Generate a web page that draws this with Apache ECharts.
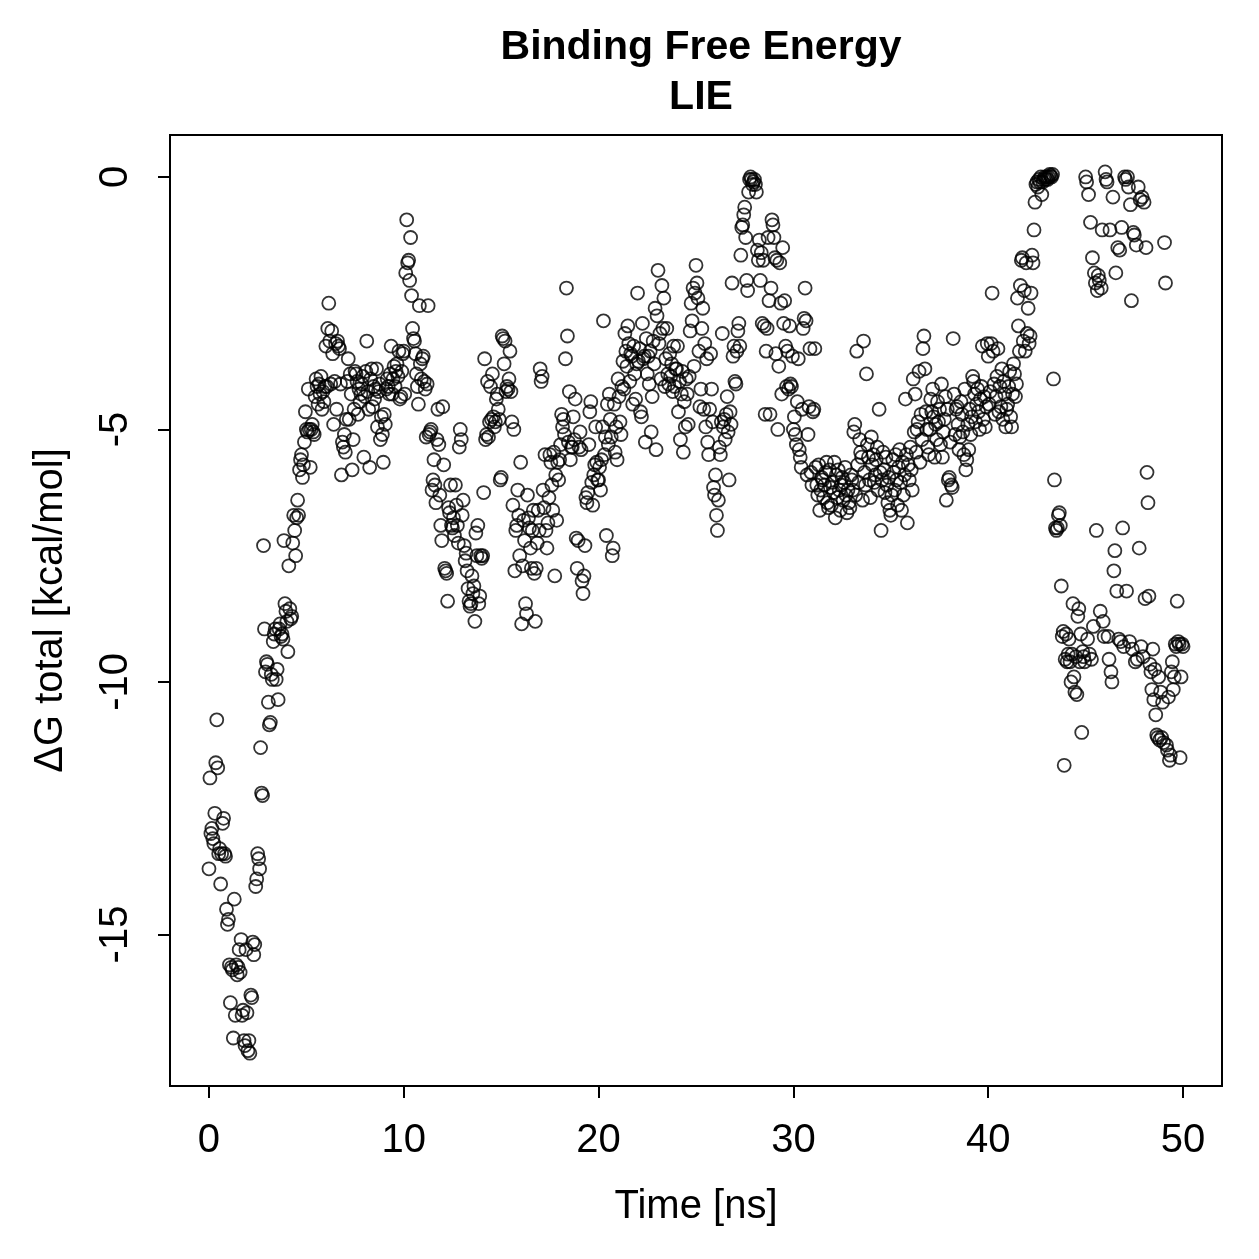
<!DOCTYPE html>
<html>
<head>
<meta charset="utf-8">
<script src="https://cdn.jsdelivr.net/npm/echarts@6/dist/echarts.min.js"></script>
<style>
  html, body { margin: 0; background: #fff; }
  #main { width: 1259px; height: 1259px; }
</style>
</head>
<body>
<div id="main"></div>
<script>
// frames are written every 0.05 ns; one row per nanosecond (20 frames)
const sampleStep = 0.05
const dgByNs = [
  [-13.7,-11.9,-13.0,-12.9,-13.1,-13.2,-12.6,-11.6,-10.75,-11.7,-13.4,-13.3,-14.0,-13.4,-12.8,-12.7,-13.4,-13.45,-14.5,-14.8],
  [-14.7,-15.6,-16.35,-15.65,-15.7,-17.05,-14.3,-16.6,-15.6,-15.8,-15.65,-15.3,-15.75,-15.1,-16.6,-16.5,-17.1,-17.2,-15.3,-16.55],
  [-17.3,-17.1,-17.35,-16.2,-16.25,-15.15,-15.4,-15.2,-14.05,-13.9,-13.4,-13.5,-13.7,-11.3,-12.2,-12.25,-7.3,-8.95,-9.8,-9.6],
  [-9.65,-10.4,-10.85,-10.8,-9.85,-9.95,-9.2,-9.05,-8.95,-9.95,-9.75,-10.35,-8.95,-8.85,-9.1,-9.05,-9.15,-7.2,-8.45,-8.6],
  [-8.8,-9.4,-7.7,-8.55,-8.75,-8.7,-7.25,-6.7,-7.0,-7.5,-6.75,-6.4,-6.7,-5.8,-5.6,-5.5,-5.95,-5.7,-5.25,-4.65],
  [-5.0,-5.05,-4.2,-5.0,-5.75,-5.0,-4.9,-5.05,-5.1,-4.35,-4.0,-4.15,-4.5,-4.1,-4.3,-3.95,-4.6,-4.25,-4.45,-4.15],
  [-3.35,-4.15,-3.0,-2.5,-3.25,-4.1,-3.05,-3.5,-4.9,-4.05,-3.3,-4.6,-3.25,-3.35,-3.4,-4.1,-5.9,-5.25,-5.35,-5.1],
  [-5.45,-4.8,-4.05,-3.6,-4.8,-3.9,-4.3,-5.8,-5.2,-4.6,-3.85,-3.9,-4.05,-4.7,-4.2,-4.45,-4.3,-4.1,-3.95,-5.55],
  [-4.35,-3.85,-3.25,-4.25,-4.6,-5.75,-4.0,-3.8,-4.55,-4.15,-4.4,-4.2,-3.8,-4.95,-4.25,-4.1,-5.2,-4.75,-5.1,-5.65],
  [-4.7,-4.9,-4.2,-4.0,-4.15,-4.3,-3.9,-3.35,-4.3,-4.0,-3.75,-4.15,-3.85,-3.7,-3.95,-3.45,-4.4,-4.35,-3.85,-3.5],
  [-3.45,-4.3,-1.9,-0.85,-1.7,-1.65,-2.05,-1.2,-2.35,-3.0,-3.2,-3.25,-3.5,-3.9,-4.15,-4.5,-2.55,-3.7,-4.0,-3.6],
  [-3.55,-4.05,-4.2,-5.15,-4.1,-2.55,-5.1,-5.05,-5.0,-6.2,-6.0,-5.6,-6.1,-6.45,-5.2,-4.6,-5.3,-6.3,-6.9,-7.2],
  [-4.55,-5.7,-7.75,-7.8,-7.85,-8.4,-6.55,-6.65,-6.1,-6.9,-6.95,-6.75,-7.1,-6.1,-6.5,-6.9,-7.25,-5.35,-5.0,-5.2],
  [-6.7,-6.4,-7.3,-7.6,-7.45,-7.8,-8.15,-8.4,-8.5,-8.45,-7.9,-8.25,-8.1,-8.8,-7.05,-7.5,-6.9,-8.45,-8.3,-7.5],
  [-7.55,-7.5,-6.25,-3.6,-5.2,-5.1,-4.05,-5.15,-4.85,-4.15,-4.8,-3.9,-4.75,-4.95,-4.85,-4.4,-4.3,-4.6,-4.8,-6.0],
  [-5.95,-3.15,-3.2,-3.7,-3.25,-4.25,-4.15,-4.2,-4.0,-3.45,-4.25,-4.85,-6.5,-5.0,-7.8,-7.0,-6.9,-6.2,-6.7,-7.5],
  [-5.65,-8.85,-7.7,-6.8,-7.2,-8.45,-8.65,-6.3,-6.75,-6.95,-7.35,-7.75,-7.0,-6.6,-7.85,-8.8,-7.75,-7.25,-6.6,-7.0],
  [-3.8,-4.05,-3.95,-6.2,-6.55,-5.5,-7.0,-7.35,-6.85,-6.35,-5.5,-5.65,-6.1,-6.6,-5.45,-7.9,-5.9,-6.8,-5.65,-6.0],
  [-5.6,-5.3,-4.7,-4.95,-4.8,-5.1,-3.6,-2.2,-3.15,-5.25,-4.25,-5.6,-5.35,-5.35,-4.75,-5.2,-4.4,-7.15,-7.75,-7.2],
  [-5.35,-5.05,-5.4,-8.0,-8.25,-7.9,-7.3,-6.35,-6.45,-6.25,-5.3,-4.65,-4.45,-6.05,-6.5,-5.9,-5.7,-4.95,-5.65,-6.0],
  [-6.0,-5.75,-6.2,-5.6,-4.95,-2.85,-5.5,-5.15,-7.1,-4.5,-5.3,-4.3,-4.8,-5.15,-7.5,-7.35,-4.5,-5.45,-4.95,-5.6],
  [-4.0,-4.35,-4.85,-5.1,-4.15,-3.65,-4.2,-3.1,-3.45,-3.75,-2.95,-3.3,-4.05,-3.5,-3.55,-4.5,-3.35,-3.9,-4.4,-3.7],
  [-2.3,-3.65,-3.4,-4.65,-4.75,-2.9,-3.6,-3.55,-5.25,-3.2,-3.9,-3.55,-4.1,-3.45,-5.05,-4.35,-3.25,-3.7,-2.6,-5.4],
  [-2.75,-1.85,-3.3,-3.1,-4.0,-2.15,-3.0,-2.4,-4.15,-3.6,-3.0,-3.9,-4.1,-3.5,-3.95,-3.7,-4.25,-3.35,-4.15,-3.8],
  [-3.8,-3.35,-4.65,-4.05,-5.2,-4.3,-3.85,-5.45,-4.45,-4.95,-4.0,-4.3,-4.9,-3.95,-3.05,-2.5,-2.85,-2.2,-3.75,-2.3],
  [-1.75,-2.1,-2.4,-3.45,-4.55,-4.2,-3.0,-2.6,-4.6,-3.3,-4.95,-3.6,-5.25,-5.5,-4.6,-3.5,-4.2,-4.85,-6.15,-6.3],
  [-5.9,-6.7,-7.0,-6.4,-5.35,-5.5,-4.85,-3.1,-4.95,-4.8,-5.2,-4.7,-4.35,-5.05,-6.0,-4.65,-4.9,-2.1,-3.55,-3.35],
  [-4.05,-4.1,-3.45,-3.05,-2.9,-3.35,-1.55,-1.0,-0.95,-0.75,-0.6,-1.2,-2.05,-2.25,-0.3,-0.05,0.0,-0.05,-0.15,-0.1],
  [-0.05,-0.15,-0.3,-1.45,-1.65,-1.25,-2.05,-1.5,-2.9,-1.65,-2.95,-4.7,-3.45,-3.0,-1.2,-2.45,-4.7,-2.2,-0.85,-0.95],
  [-1.2,-1.6,-3.5,-1.65,-5.0,-3.75,-1.7,-2.5,-4.3,-1.4,-2.9,-2.45,-3.35,-4.15,-3.45,-4.2,-2.95,-4.1,-4.15,-3.55],
  [-5.0,-4.75,-5.1,-5.3,-4.45,-3.6,-5.4,-5.55,-5.75,-4.6,-3.0,-2.8,-2.2,-2.85,-5.9,-5.1,-4.55,-3.4,-5.85,-6.1],
  [-4.65,-4.6,-3.4,-5.75,-6.1,-6.3,-5.7,-6.6,-6.2,-5.95,-6.0,-6.35,-6.1,-5.85,-5.65,-6.45,-6.55,-5.8,-6.15,-6.5],
  [-6.05,-6.25,-5.65,-6.75,-5.9,-6.35,-5.8,-6.2,-6.6,-6.1,-5.95,-6.4,-6.05,-5.75,-6.3,-6.65,-6.2,-6.45,-6.55,-5.9],
  [-6.0,-6.2,-5.05,-4.9,-6.3,-3.45,-5.7,-6.05,-5.2,-5.45,-5.55,-6.4,-3.25,-5.85,-6.1,-3.9,-5.3,-5.55,-6.0,-6.35],
  [-5.15,-5.7,-5.5,-6.05,-5.9,-5.6,-5.35,-6.2,-4.6,-5.85,-7.0,-6.0,-5.45,-5.8,-6.25,-5.55,-6.1,-6.45,-5.95,-6.6],
  [-6.7,-6.3,-5.6,-5.85,-6.2,-5.5,-6.0,-6.5,-5.75,-5.4,-6.05,-6.6,-5.65,-6.3,-5.9,-4.4,-5.5,-6.85,-5.7,-6.0],
  [-5.35,-5.8,-6.2,-4.0,-5.05,-4.3,-5.45,-5.0,-4.85,-3.85,-5.65,-4.7,-5.2,-3.4,-3.15,-3.8,-4.65,-5.0,-5.35,-5.5],
  [-5.0,-4.4,-4.65,-4.2,-4.75,-5.55,-4.9,-5.2,-4.45,-4.85,-4.6,-5.3,-4.1,-5.55,-5.05,-4.8,-4.35,-6.4,-4.6,-6.0],
  [-5.95,-5.25,-6.1,-6.15,-3.2,-4.3,-5.1,-4.6,-4.55,-4.9,-5.4,-5.15,-4.45,-4.7,-5.05,-5.5,-4.2,-5.8,-5.6,-4.9],
  [-5.4,-4.6,-5.1,-4.75,-3.95,-4.05,-4.3,-4.85,-4.5,-4.2,-4.65,-5.0,-4.4,-4.15,-3.35,-4.8,-4.35,-4.95,-4.55,-3.3],
  [-3.55,-4.5,-4.25,-3.3,-2.3,-3.45,-4.1,-4.7,-4.35,-3.95,-3.4,-4.65,-4.15,-4.55,-3.8,-4.8,-4.05,-4.3,-4.95,-4.6],
  [-4.5,-4.15,-3.85,-4.75,-4.95,-4.3,-3.7,-3.9,-4.35,-4.1,-2.4,-2.95,-3.45,-2.15,-1.65,-1.6,-3.25,-2.25,-3.45,-1.7],
  [-3.1,-2.6,-3.3,-3.15,-2.3,-1.55,-1.7,-1.05,-0.5,-0.15,-0.1,-0.2,-0.05,-0.1,0.0,-0.35,-0.1,-0.05,0.0,-0.05],
  [0.0,-0.05,0.0,0.05,0.02,0.0,0.05,-4.0,-6.0,-6.95,-7.0,-6.95,-6.7,-6.65,-6.9,-8.1,-9.1,-9.0,-11.65,-9.55],
  [-9.05,-9.6,-9.45,-9.15,-9.6,-10.0,-9.45,-8.45,-9.9,-10.2,-9.5,-10.25,-8.7,-8.55,-9.6,-9.05,-11.0,-9.4,-9.5,-9.6],
  [0.0,-0.1,-9.15,-0.35,-9.45,-0.9,-9.55,-1.6,-8.9,-1.9,-2.1,-7.0,-2.25,-1.95,-2.05,-8.6,-2.2,-1.05,-8.8,-9.1],
  [0.1,-0.05,-0.1,-9.1,-9.55,-1.05,-9.8,-10.0,-0.4,-7.8,-7.4,-1.9,-8.2,-1.4,-9.15,-1.45,-9.2,-1.0,-6.95,-9.3],
  [0.0,-0.05,-8.2,0.0,-0.2,-9.2,-0.55,-2.45,-9.35,-1.1,-1.15,-9.6,-1.35,-9.55,-0.2,-7.35,-0.45,-9.3,-0.4,-9.5],
  [-0.5,-8.35,-1.4,-5.85,-6.45,-8.3,-9.65,-9.8,-10.15,-9.35,-10.35,-9.75,-10.65,-11.05,-11.1,-9.9,-11.15,-10.2,-11.1,-10.4],
  [-11.2,-1.3,-2.1,-11.25,-11.35,-10.3,-11.55,-11.45,-9.8,-9.6,-10.15,-9.9,-9.25,-9.3,-8.4,-9.2,-9.25,-11.5,-9.9,-9.25],
  [-9.3]
]
const xTicks = [0, 10, 20, 30, 40, 50]
const yTicks = [0, -5, -10, -15]

const points = []
dgByNs.forEach((row, ns) => {
  row.forEach((v, j) => {
    points.push([+(ns + j * sampleStep).toFixed(2), v])
  })
})

const font = "'Liberation Sans', Arial, Helvetica, sans-serif"
const chart = echarts.init(document.getElementById('main'), null, {renderer: 'canvas'})
chart.setOption({
  animation: false,
  backgroundColor: '#fff',
  title: {
    text: 'Binding Free Energy\nLIE',
    left: 696,
    top: 18,
    textAlign: 'center',
    textStyle: {fontFamily: font, fontSize: 41, fontWeight: 'bold', color: '#000', lineHeight: 50}
  },
  grid: {
    left: 170, right: 37, top: 135, bottom: 173,
    show: true, borderColor: '#000', borderWidth: 2, backgroundColor: 'transparent'
  },
  xAxis: {
    type: 'value', min: -2, max: 52,
    name: 'Time [ns]', nameLocation: 'middle', nameGap: 101,
    nameTextStyle: {fontFamily: font, fontSize: 40, color: '#000'},
    axisLine: {show: false, onZero: false},
    splitLine: {show: false},
    axisTick: {show: true, length: 12, customValues: xTicks, lineStyle: {color: '#000', width: 2}},
    axisLabel: {customValues: xTicks, margin: 35, fontFamily: font, fontSize: 40, color: '#000'}
  },
  yAxis: {
    type: 'value', min: -18.0, max: 0.83,
    name: '\u0394G total [kcal/mol]', nameLocation: 'middle', nameGap: 99, nameRotate: 90,
    nameTextStyle: {fontFamily: font, fontSize: 40, color: '#000'},
    axisLine: {show: false, onZero: false},
    splitLine: {show: false},
    axisTick: {show: true, length: 12, customValues: yTicks, lineStyle: {color: '#000', width: 2}},
    axisLabel: {customValues: yTicks, rotate: 90, margin: 34, fontFamily: font, fontSize: 40, color: '#000'}
  },
  series: [{
    type: 'scatter',
    data: points,
    symbol: 'circle',
    symbolSize: 13,
    itemStyle: {color: 'rgba(0,0,0,0)', borderColor: '#000', borderWidth: 1.8},
    emphasis: {disabled: true}
  }]
})
</script>
</body>
</html>
